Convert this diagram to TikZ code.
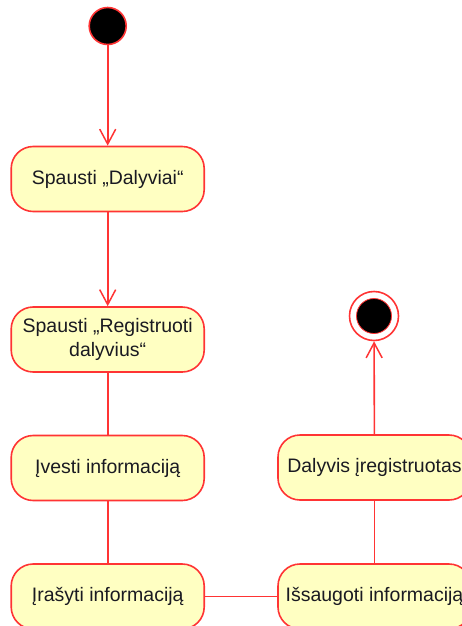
\documentclass[tikz,border=0pt]{standalone}
\usepackage{fontspec}
\setmainfont{Liberation Sans}
\usetikzlibrary{arrows.meta}
\definecolor{umlred}{RGB}{255,52,52}
\definecolor{umlfill}{RGB}{255,255,194}
\definecolor{umltext}{RGB}{26,26,34}
\tikzset{
  action/.style={draw=umlred, fill=umlfill, line width=1.6pt, rounded corners=22pt,
    minimum width=193pt, minimum height=65pt, inner sep=0pt, align=center,
    text=umltext, font=\fontsize{19.5}{23.5}\selectfont},
  flow/.style={draw=umlred, line width=1.6pt},
  flowarrow/.style={flow, -{Straight Barb[length=15pt,width=16pt,line width=1.5pt]}},
}
\begin{document}
\begin{tikzpicture}[x=1pt,y=-1pt]
  \useasboundingbox (0,0) rectangle (461,626);
  % initial and final states
  \node[circle, draw=umlred, fill=black, line width=1.6pt, minimum size=37pt, inner sep=0pt] (start) at (107.7,26) {};
  \node[circle, draw=umlred, fill=white, line width=1.6pt, minimum size=49pt, inner sep=0pt] (end) at (374,316) {};
  \node[circle, draw=umlred, fill=black, line width=0.8pt, minimum size=35pt, inner sep=0pt] (endcore) at (end) {};
  % actions
  \node[action] (dalyviai) at (107.7,179) {Spausti „Dalyviai“};
  \node[action] (registruoti) at (107.7,339.5) {Spausti „Registruoti\\dalyvius“};
  \node[action] (ivesti) at (107.7,468) {Įvesti informaciją};
  \node[action] (irasyti) at (107.7,596.5) {Įrašyti informaciją};
  \node[action] (issaugoti) at (374.5,596.5) {Išsaugoti informaciją};
  \node[action] (uzregistruotas) at (374.5,467.5) {Dalyvis įregistruotas};
  % transitions
  \draw[flowarrow] (start) -- (dalyviai);
  \draw[flowarrow] (dalyviai) -- (registruoti);
  \draw[flow] (registruoti) -- (ivesti);
  \draw[flow] (ivesti) -- (irasyti);
  \draw[flow] (irasyti) -- (issaugoti);
  \draw[flow] (issaugoti) -- (uzregistruotas);
  \draw[flowarrow] (uzregistruotas) -- (end);
\end{tikzpicture}
\end{document}
